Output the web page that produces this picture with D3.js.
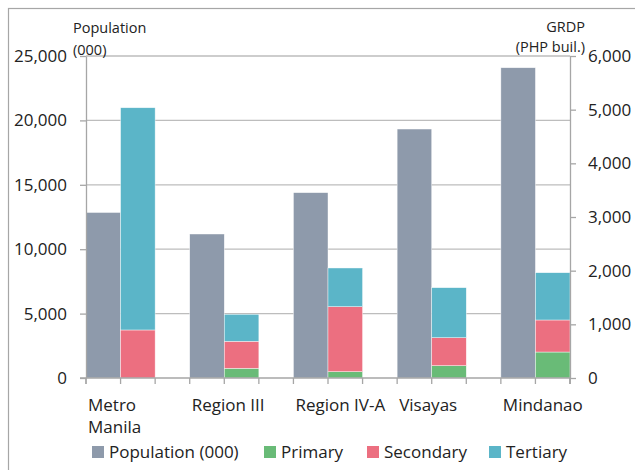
<!DOCTYPE html>
<html>
<head>
<meta charset="utf-8">
<script src="https://cdn.jsdelivr.net/npm/d3@7/dist/d3.min.js"></script>
<style>
  html,body{margin:0;padding:0;background:#fff;}
  svg{display:block;}
</style>
</head>
<body>
<div id="chart"></div>
<script>
// population vs GRDP by sector, two y axes

const CATEGORIES = ["Metro Manila", "Region III", "Region IV-A", "Visayas", "Mindanao"];
const CAT_LINES  = [["Metro", "Manila"], ["Region III"], ["Region IV-A"], ["Visayas"], ["Mindanao"]];
const POPULATION = [12850, 11180, 14390, 19330, 24090];   // 000
const PRIMARY    = [0, 181, 118, 230, 484];                // PHP bil.
const SECONDARY  = [895, 503, 1211, 521, 597];
const TERTIARY   = [4141, 503, 721, 932, 881];
const POP_TICKS  = [0, 5000, 10000, 15000, 20000, 25000];
const GRDP_TICKS = [0, 1000, 2000, 3000, 4000, 5000, 6000];

const SERIES = [
  { key:"pop",       label:"Population (000)", color:"#8e9aab" },
  { key:"primary",   label:"Primary",          color:"#69bb77" },
  { key:"secondary", label:"Secondary",        color:"#ec6f80" },
  { key:"tertiary",  label:"Tertiary",         color:"#5bb5c8" },
];

const FONT = "'Open Sans', sans-serif";
const W = 635, H = 470;
const pL = 86, pR = 570, pT = 56, pB = 378;

const svg = d3.select("#chart").append("svg").attr("width", W).attr("height", H);

// outer frame (only top/left edges show in the crop)
svg.append("rect").attr("x", 8.5).attr("y", 8.5).attr("width", W + 20).attr("height", H + 20)
  .attr("fill", "none").attr("stroke", "#a6a6a6").attr("stroke-width", 1.2);

const x = d3.scaleBand().domain(CATEGORIES).range([pL, pR]).paddingInner(1/3).paddingOuter(0);
const xs = d3.scaleBand().domain(["pop", "grdp"]).range([0, x.bandwidth()]);
const yL = d3.scaleLinear().domain([0, 25000]).range([pB, pT]);
const yR = d3.scaleLinear().domain([0, 6000]).range([pB, pT]);
const fmt = d3.format(",");

// gridlines
svg.append("g").selectAll("line").data(POP_TICKS.filter(d => d > 0)).join("line")
  .attr("x1", pL).attr("x2", pR).attr("y1", d => yL(d)).attr("y2", d => yL(d))
  .attr("stroke", "#bdbdbd").attr("stroke-width", 1.3);

// population bars
svg.append("g").selectAll("rect").data(CATEGORIES).join("rect")
  .attr("x", d => x(d) + xs("pop")).attr("width", xs.bandwidth())
  .attr("y", (d, i) => yL(POPULATION[i])).attr("height", (d, i) => yL(0) - yL(POPULATION[i]))
  .attr("fill", SERIES[0].color).attr("stroke", "#fff").attr("stroke-width", 0.6).attr("stroke-opacity", 0.7);

// GRDP stacked bars
const rows = CATEGORIES.map((c, i) => ({ cat:c, primary:PRIMARY[i], secondary:SECONDARY[i], tertiary:TERTIARY[i] }));
const stack = d3.stack().keys(["primary", "secondary", "tertiary"])(rows);
svg.append("g").selectAll("g").data(stack).join("g")
  .attr("fill", s => SERIES.find(d => d.key === s.key).color)
  .selectAll("rect").data(s => s).join("rect")
  .attr("x", d => x(d.data.cat) + xs("grdp")).attr("width", xs.bandwidth())
  .attr("y", d => yR(d[1])).attr("height", d => yR(d[0]) - yR(d[1]))
  .attr("stroke", "#fff").attr("stroke-width", 0.6).attr("stroke-opacity", 0.7);

// axes
const AX = sel => sel
  .call(a => a.select(".domain").attr("stroke", "#a6a6a6").attr("stroke-width", 1.3))
  .call(a => a.selectAll(".tick line").attr("stroke", "#a6a6a6").attr("stroke-width", 1.3))
  .call(a => a.selectAll("text").attr("fill", "#222").style("font-family", FONT).style("font-size", "17px"));

svg.append("g").attr("transform", `translate(${pL},0)`)
  .call(d3.axisLeft(yL).tickValues(POP_TICKS).tickFormat(fmt).tickSizeInner(6).tickSizeOuter(0).tickPadding(13))
  .call(AX);

svg.append("g").attr("transform", `translate(${pR},0)`)
  .call(d3.axisRight(yR).tickValues(GRDP_TICKS).tickFormat(fmt).tickSizeInner(6).tickSizeOuter(0).tickPadding(12))
  .call(AX);

// extend vertical axis lines down to the x-axis tick ends
[pL, pR].forEach(px => {
  svg.append("line").attr("x1", px).attr("x2", px).attr("y1", pB).attr("y2", pB + 6)
    .attr("stroke", "#a6a6a6").attr("stroke-width", 1.3);
});

// x axis: line plus a tick at every bar edge
const edges = [];
CATEGORIES.forEach(c => { edges.push(x(c), x(c) + xs.bandwidth(), x(c) + x.bandwidth()); });
edges.push(pR);
const xg = svg.append("g");
xg.append("line").attr("x1", pL - 6).attr("x2", pR).attr("y1", pB).attr("y2", pB)
  .attr("stroke", "#a6a6a6").attr("stroke-width", 1.3);
xg.selectAll("line.t").data(edges).join("line").attr("class", "t")
  .attr("x1", d => d).attr("x2", d => d).attr("y1", pB).attr("y2", pB + 6)
  .attr("stroke", "#a6a6a6").attr("stroke-width", 1.3);

// category labels, left aligned on the group
svg.append("g").selectAll("text").data(CATEGORIES).join("text")
  .attr("x", d => x(d) + 2).attr("y", 411)
  .attr("fill", "#222").style("font-family", FONT).style("font-size", "17px")
  .each(function(d, i) {
    d3.select(this).selectAll("tspan").data(CAT_LINES[i]).join("tspan")
      .attr("x", x(d) + 2).attr("dy", (t, j) => j ? 22 : 0).text(t => t);
  });

// axis titles
const title = (lines, px, anchor, ys) => {
  svg.append("text").attr("text-anchor", anchor).attr("fill", "#222")
    .style("font-family", FONT).style("font-size", "14.5px")
    .selectAll("tspan").data(lines).join("tspan")
    .attr("x", px).attr("y", (t, j) => ys[j]).text(t => t);
};
title(["Population", "(000)"], 73, "start", [33, 55]);
title(["GRDP", "(PHP buil.)"], 585, "end", [32, 52]);

// legend
const LEG_X = [92, 264, 367, 489];
const lg = svg.append("g").selectAll("g").data(SERIES).join("g")
  .attr("transform", (d, i) => `translate(${LEG_X[i]},446)`);
lg.append("rect").attr("width", 12).attr("height", 12).attr("fill", d => d.color);
lg.append("text").attr("x", 17).attr("y", 11.5).attr("fill", "#222")
  .style("font-family", FONT).style("font-size", "17px").text(d => d.label);
</script>
</body>
</html>
